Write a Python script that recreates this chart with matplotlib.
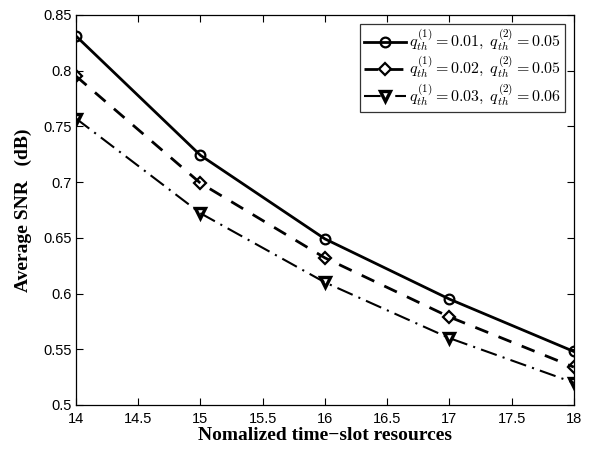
import numpy as np
import matplotlib
matplotlib.use("Agg")
import matplotlib.pyplot as plt

plt.rcParams.update({
    "font.family": "Liberation Sans", "font.size": 11,
    "mathtext.fontset": "cm",
    "xtick.direction": "in", "ytick.direction": "in",
    "xtick.top": True, "ytick.right": True,
    "axes.linewidth": 0.9,
})

x = [14, 15, 16, 17, 18]
snr_a = [0.831, 0.724, 0.649, 0.595, 0.548]
snr_b = [0.795, 0.699, 0.632, 0.579, 0.534]
snr_c = [0.757, 0.672, 0.610, 0.560, 0.520]
labels = [r"$q_{th}^{(1)}=0.01,\; q_{th}^{(2)}=0.05$",
          r"$q_{th}^{(1)}=0.02,\; q_{th}^{(2)}=0.05$",
          r"$q_{th}^{(1)}=0.03,\; q_{th}^{(2)}=0.06$"]

fig = plt.figure(figsize=(5.91, 4.5), dpi=100)
ax = fig.add_axes([0.1286, 0.1, 0.971 - 0.1286, 0.967 - 0.1])

ax.plot(x, snr_a, "-", color="black", lw=2, marker="o", ms=7, mfc="none", mew=1.6, label=labels[0])
ax.plot(x, snr_b, "--", color="black", lw=2, marker="D", ms=6, mfc="none", mew=1.6,
        dashes=(5, 4), label=labels[1])
ax.plot(x, snr_c, "-.", color="black", lw=1.5, marker="v", ms=7, mfc="none", mew=2.4,
        dashes=(8, 3, 1, 3), label=labels[2])

ax.set_xlim(14, 18); ax.set_ylim(0.5, 0.85)
ax.set_xticks(np.arange(14, 18.01, 0.5))
ax.set_yticks(np.arange(0.5, 0.851, 0.05))
ax.set_xticklabels(["14", "14.5", "15", "15.5", "16", "16.5", "17", "17.5", "18"])
ax.set_yticklabels(["0.5", "0.55", "0.6", "0.65", "0.7", "0.75", "0.8", "0.85"])
ax.tick_params(labelsize=10.5, length=5)
ax.tick_params(axis="x", pad=5)
ax.tick_params(axis="y", pad=3)

ax.set_xlabel("Nomalized time\u2212slot resources", fontfamily="Liberation Serif",
              fontweight="bold", fontsize=14, labelpad=1)
ax.set_ylabel("Average SNR   (dB)", fontfamily="Liberation Serif",
              fontweight="bold", fontsize=14, labelpad=8)

leg = ax.legend(loc="upper right", fontsize=11.5, frameon=True, fancybox=False,
                edgecolor="black", handlelength=2.6, handletextpad=0.2,
                borderpad=0.25, labelspacing=0.1, borderaxespad=0.55)
leg.get_frame().set_linewidth(0.9)

fig.savefig("out.png", dpi=100)
